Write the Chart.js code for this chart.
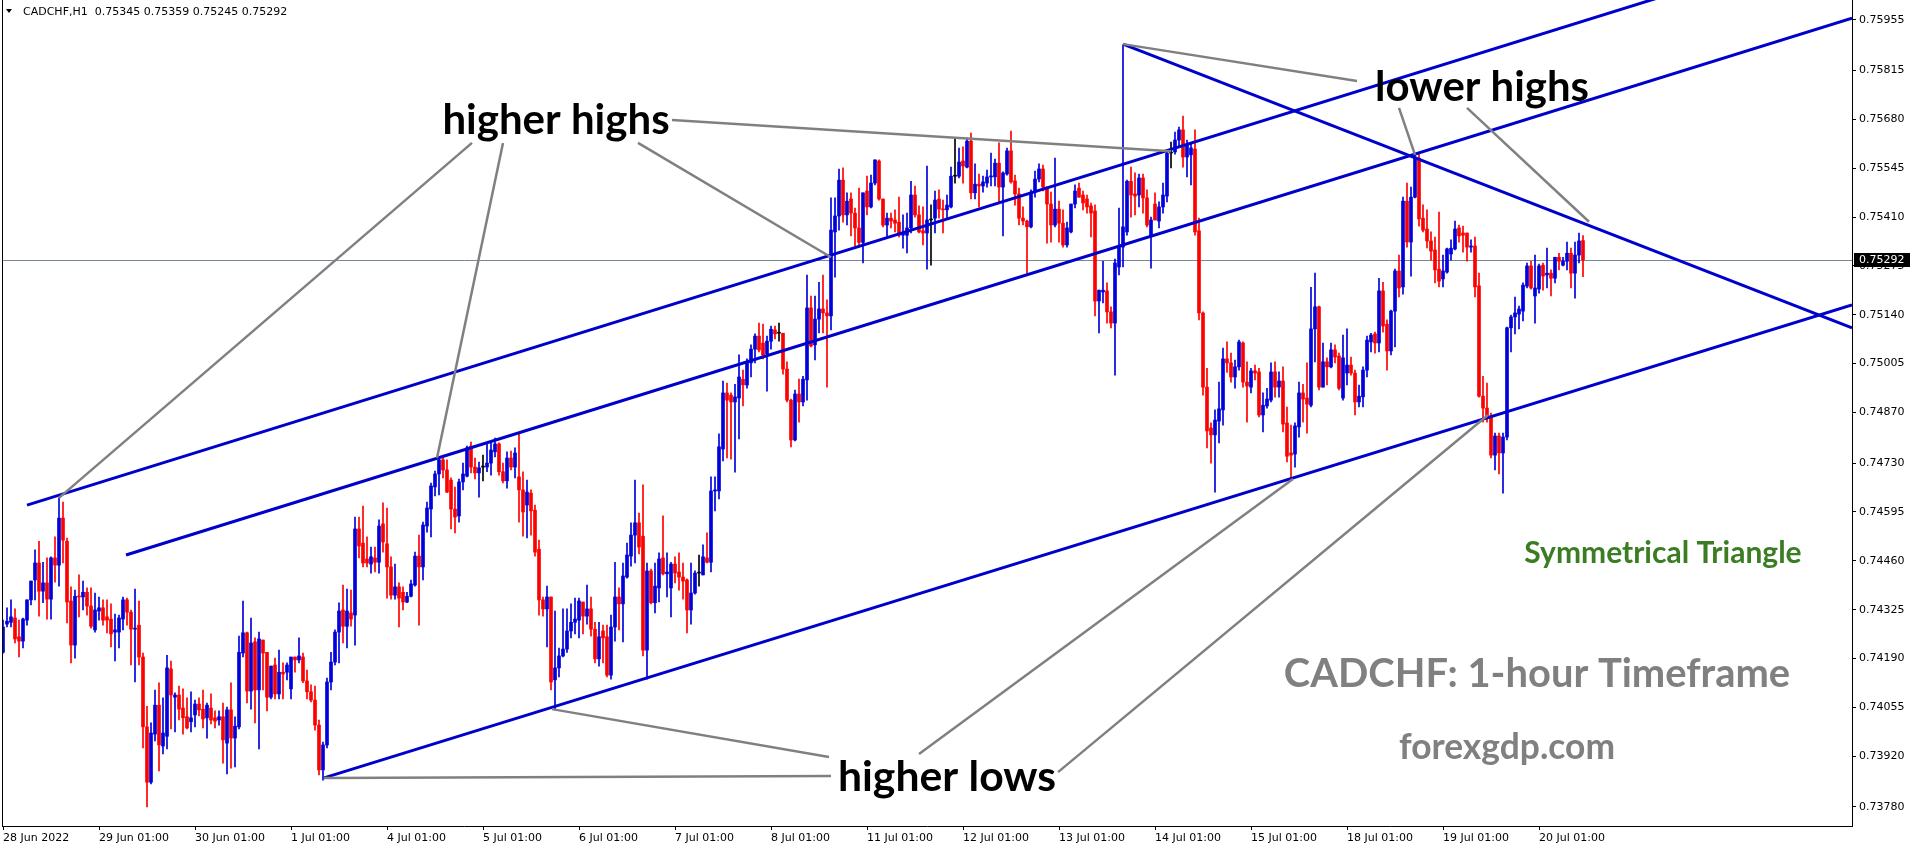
<!DOCTYPE html>
<html><head><meta charset="utf-8">
<script src="https://cdn.jsdelivr.net/npm/chart.js@4.4.1/dist/chart.umd.min.js"></script>
<style>html,body{margin:0;padding:0;background:#fff;overflow:hidden}#wrap{position:relative;width:1916px;height:850px}</style>
</head><body><div id="wrap"><canvas id="c" width="1916" height="850"></canvas></div>
<script>
const headerText = 'CADCHF,H1  0.75345 0.75359 0.75245 0.75292';
const dayLabels = ['28 Jun 2022','29 Jun 01:00','30 Jun 01:00','1 Jul 01:00','4 Jul 01:00','5 Jul 01:00','6 Jul 01:00','7 Jul 01:00','8 Jul 01:00','11 Jul 01:00','12 Jul 01:00','13 Jul 01:00','14 Jul 01:00','15 Jul 01:00','18 Jul 01:00','19 Jul 01:00','20 Jul 01:00'];
const barsPerDay = 24;
const priceTicks = [0.73780,0.73920,0.74055,0.74190,0.74325,0.74460,0.74595,0.74730,0.74870,0.75005,0.75140,0.75275,0.75410,0.75545,0.75680,0.75815,0.75955];

const openP = [
0.74207,0.74285,0.74290,0.74302,0.74250,0.74238,0.74296,0.74352,0.74407,0.74454,
0.74376,0.74399,0.74354,0.74468,0.74448,0.74578,0.74514,0.74349,0.74227,0.74362,
0.74360,0.74373,0.74335,0.74269,0.74321,0.74330,0.74305,0.74299,0.74263,0.74263,
0.74299,0.74352,0.74318,0.74271,0.74282,0.74194,0.74001,0.73848,0.73981,0.74061,
0.73948,0.73975,0.74161,0.74083,0.74089,0.74053,0.74029,0.74015,0.74034,0.74064,
0.74050,0.74026,0.74053,0.74026,0.74020,0.74029,0.73956,0.74048,0.73970,0.74001,
0.74205,0.74261,0.74100,0.74236,0.74103,0.74241,0.74207,0.74083,0.74172,0.74092,
0.74152,0.74152,0.74106,0.74194,0.74186,0.74194,0.74128,0.74098,0.74075,0.74006,
0.73882,0.73951,0.74125,0.74180,0.74263,0.74324,0.74279,0.74316,0.74310,0.74548,
0.74509,0.74465,0.74451,0.74468,0.74456,0.74562,0.74507,0.74443,0.74365,0.74388,
0.74373,0.74346,0.74362,0.74393,0.74473,0.74443,0.74556,0.74603,0.74664,0.74700,
0.74739,0.74711,0.74683,0.74603,0.74584,0.74678,0.74694,0.74777,0.74719,0.74703,
0.74719,0.74719,0.74730,0.74761,0.74783,0.74706,0.74681,0.74744,0.74719,0.74692,
0.74656,0.74614,0.74647,0.74600,0.74492,0.74352,0.74327,0.74360,0.74131,0.74164,
0.74197,0.74216,0.74266,0.74290,0.74296,0.74346,0.74307,0.74327,0.74271,0.74189,
0.74266,0.74250,0.74144,0.74277,0.74360,0.74341,0.74415,0.74473,0.74531,0.74565,
0.74528,0.74213,0.74432,0.74344,0.74385,0.74468,0.74424,0.74385,0.74451,0.74429,
0.74415,0.74407,0.74324,0.74371,0.74426,0.74421,0.74468,0.74456,0.74653,0.74653,
0.74769,0.74924,0.74918,0.74899,0.74910,0.74962,0.74946,0.75007,0.75045,0.75081,
0.75062,0.75032,0.75067,0.75098,0.75089,0.75089,0.74990,0.74904,0.74794,0.74921,
0.74899,0.74960,0.75159,0.75057,0.75128,0.75156,0.75145,0.75137,0.75369,0.75413,
0.75512,0.75416,0.75460,0.75421,0.75380,0.75340,0.75482,0.75438,0.75504,0.75565,
0.75460,0.75388,0.75407,0.75402,0.75396,0.75360,0.75360,0.75380,0.75471,0.75416,
0.75372,0.75366,0.75402,0.75407,0.75460,0.75432,0.75430,0.75438,0.75523,0.75523,
0.75565,0.75548,0.75620,0.75477,0.75501,0.75496,0.75504,0.75521,0.75521,0.75559,
0.75493,0.75529,0.75593,0.75510,0.75474,0.75407,0.75399,0.75383,0.75479,0.75515,
0.75543,0.75493,0.75446,0.75388,0.75432,0.75393,0.75333,0.75369,0.75446,0.75490,
0.75471,0.75460,0.75441,0.75427,0.75178,0.75203,0.75206,0.75148,0.75117,0.75272,
0.75327,0.75369,0.75509,0.75474,0.75471,0.75518,0.75463,0.75358,0.75446,0.75399,
0.75438,0.75468,0.75587,0.75590,0.75623,0.75651,0.75576,0.75582,0.75598,0.75372,
0.75145,0.74940,0.74827,0.74808,0.74846,0.74877,0.75018,0.75007,0.74968,0.74996,
0.75062,0.74954,0.74940,0.74985,0.74982,0.74863,0.74888,0.74904,0.74982,0.74940,
0.74957,0.74841,0.74758,0.74755,0.74830,0.74924,0.74910,0.74890,0.75101,0.75162,
0.74940,0.75010,0.74996,0.75043,0.75026,0.74910,0.74979,0.75001,0.74979,0.74899,
0.74913,0.74987,0.75065,0.75087,0.75062,0.75206,0.75114,0.75040,0.75150,0.75261,
0.75217,0.75454,0.75341,0.75465,0.75573,0.75407,0.75377,0.75344,0.75319,0.75266,
0.75239,0.75258,0.75308,0.75322,0.75380,0.75366,0.75366,0.75327,0.75330,0.75220,
0.74915,0.74882,0.74860,0.74752,0.74805,0.74758,0.74802,0.75104,0.75134,0.75142,
0.75150,0.75219,0.75275,0.75192,0.75211,0.75277,0.75250,0.75255,0.75241,0.75299,
0.75277,0.75288,0.75310,0.75255,0.75305,0.75345];

const highP = [
0.74296,0.74330,0.74352,0.74327,0.74296,0.74302,0.74352,0.74404,0.74490,0.74514,
0.74456,0.74468,0.74471,0.74526,0.74634,0.74622,0.74523,0.74388,0.74379,0.74421,
0.74404,0.74385,0.74385,0.74371,0.74360,0.74352,0.74352,0.74341,0.74313,0.74310,
0.74360,0.74357,0.74324,0.74382,0.74349,0.74205,0.74058,0.74012,0.74103,0.74123,
0.74081,0.74199,0.74183,0.74095,0.74114,0.74106,0.74081,0.74098,0.74075,0.74081,
0.74103,0.74067,0.74092,0.74045,0.74045,0.74067,0.74056,0.74123,0.74029,0.74252,
0.74349,0.74263,0.74302,0.74247,0.74263,0.74241,0.74207,0.74169,0.74191,0.74213,
0.74178,0.74178,0.74194,0.74194,0.74247,0.74205,0.74158,0.74117,0.74114,0.74020,
0.73959,0.74136,0.74207,0.74269,0.74344,0.74393,0.74382,0.74379,0.74581,0.74581,
0.74611,0.74526,0.74498,0.74498,0.74573,0.74620,0.74606,0.74471,0.74451,0.74399,
0.74388,0.74373,0.74407,0.74484,0.74531,0.74567,0.74622,0.74675,0.74708,0.74747,
0.74747,0.74739,0.74689,0.74664,0.74686,0.74730,0.74777,0.74788,0.74744,0.74733,
0.74752,0.74786,0.74788,0.74799,0.74786,0.74730,0.74761,0.74763,0.74772,0.74813,
0.74706,0.74683,0.74656,0.74614,0.74517,0.74360,0.74390,0.74360,0.74321,0.74219,
0.74327,0.74327,0.74341,0.74357,0.74357,0.74346,0.74393,0.74360,0.74290,0.74290,
0.74282,0.74282,0.74310,0.74456,0.74385,0.74454,0.74509,0.74565,0.74683,0.74592,
0.74670,0.74454,0.74437,0.74454,0.74482,0.74584,0.74482,0.74456,0.74471,0.74482,
0.74454,0.74410,0.74454,0.74432,0.74476,0.74504,0.74537,0.74692,0.74692,0.74811,
0.74957,0.74951,0.74924,0.74948,0.75029,0.74987,0.75018,0.75057,0.75087,0.75117,
0.75114,0.75081,0.75109,0.75109,0.75117,0.75089,0.75010,0.74907,0.74932,0.74962,
0.74970,0.75250,0.75192,0.75192,0.75230,0.75250,0.75181,0.75463,0.75463,0.75543,
0.75546,0.75477,0.75477,0.75435,0.75490,0.75477,0.75523,0.75526,0.75568,0.75568,
0.75460,0.75421,0.75421,0.75430,0.75465,0.75416,0.75421,0.75509,0.75496,0.75441,
0.75438,0.75551,0.75444,0.75482,0.75485,0.75457,0.75471,0.75548,0.75626,0.75601,
0.75604,0.75629,0.75642,0.75557,0.75529,0.75523,0.75540,0.75587,0.75570,0.75615,
0.75535,0.75601,0.75648,0.75526,0.75490,0.75438,0.75402,0.75485,0.75537,0.75557,
0.75554,0.75493,0.75479,0.75573,0.75454,0.75430,0.75396,0.75446,0.75499,0.75504,
0.75482,0.75471,0.75449,0.75444,0.75208,0.75288,0.75228,0.75162,0.75294,0.75435,
0.75886,0.75512,0.75548,0.75532,0.75529,0.75529,0.75485,0.75410,0.75477,0.75452,
0.75504,0.75590,0.75617,0.75645,0.75659,0.75689,0.75623,0.75615,0.75651,0.75407,
0.75148,0.74992,0.74841,0.74877,0.74954,0.75048,0.75065,0.75034,0.75015,0.75070,
0.75065,0.75010,0.74992,0.75001,0.74992,0.74924,0.74937,0.75007,0.75010,0.74982,
0.74996,0.74885,0.74835,0.74841,0.74954,0.74948,0.75007,0.75216,0.75255,0.75164,
0.75062,0.75021,0.75062,0.75057,0.75034,0.75084,0.75101,0.75023,0.74987,0.74946,
0.74996,0.75081,0.75089,0.75092,0.75241,0.75230,0.75126,0.75153,0.75266,0.75305,
0.75465,0.75504,0.75493,0.75582,0.75587,0.75444,0.75430,0.75369,0.75355,0.75424,
0.75305,0.75324,0.75347,0.75399,0.75388,0.75385,0.75366,0.75347,0.75355,0.75255,
0.74970,0.74951,0.74868,0.74813,0.74813,0.74813,0.75106,0.75139,0.75189,0.75164,
0.75228,0.75283,0.75288,0.75305,0.75280,0.75283,0.75324,0.75264,0.75299,0.75310,
0.75299,0.75341,0.75324,0.75341,0.75366,0.75359];

const lowP = [
0.74205,0.74277,0.74277,0.74233,0.74194,0.74219,0.74282,0.74338,0.74352,0.74307,
0.74344,0.74299,0.74299,0.74401,0.74390,0.74454,0.74288,0.74178,0.74191,0.74305,
0.74324,0.74310,0.74274,0.74263,0.74296,0.74282,0.74261,0.74222,0.74183,0.74219,
0.74269,0.74282,0.74172,0.74125,0.74172,0.73943,0.73780,0.73843,0.73962,0.73879,
0.73926,0.73940,0.73995,0.73987,0.74020,0.73981,0.73995,0.73987,0.74001,0.74031,
0.73998,0.73970,0.74009,0.73998,0.74006,0.73901,0.73871,0.73887,0.73890,0.73995,
0.74194,0.74067,0.74050,0.74012,0.73940,0.74103,0.74045,0.74078,0.74078,0.74078,
0.74078,0.74131,0.74078,0.74152,0.74178,0.74123,0.74078,0.74070,0.73992,0.73868,
0.73854,0.73943,0.74103,0.74172,0.74178,0.74233,0.74219,0.74279,0.74227,0.74468,
0.74443,0.74443,0.74426,0.74429,0.74426,0.74484,0.74357,0.74354,0.74354,0.74277,
0.74324,0.74344,0.74360,0.74390,0.74282,0.74407,0.74539,0.74526,0.74639,0.74642,
0.74689,0.74648,0.74548,0.74537,0.74567,0.74656,0.74692,0.74703,0.74686,0.74636,
0.74681,0.74706,0.74697,0.74747,0.74697,0.74675,0.74661,0.74711,0.74689,0.74567,
0.74528,0.74523,0.74531,0.74473,0.74310,0.74307,0.74222,0.74103,0.74048,0.74139,
0.74194,0.74207,0.74247,0.74258,0.74247,0.74258,0.74285,0.74252,0.74178,0.74169,
0.74178,0.74139,0.74133,0.74238,0.74269,0.74236,0.74412,0.74445,0.74454,0.74479,
0.74197,0.74133,0.74341,0.74316,0.74346,0.74421,0.74360,0.74305,0.74399,0.74379,
0.74354,0.74261,0.74285,0.74368,0.74390,0.74421,0.74454,0.74429,0.74598,0.74631,
0.74736,0.74744,0.74741,0.74705,0.74797,0.74888,0.74937,0.74968,0.75007,0.75037,
0.75018,0.74929,0.75045,0.75073,0.75067,0.74976,0.74899,0.74775,0.74791,0.74843,
0.74888,0.74904,0.75051,0.75015,0.75090,0.75090,0.74940,0.75098,0.75244,0.75374,
0.75396,0.75388,0.75358,0.75327,0.75330,0.75283,0.75416,0.75435,0.75499,0.75457,
0.75383,0.75352,0.75380,0.75369,0.75355,0.75324,0.75311,0.75366,0.75410,0.75366,
0.75333,0.75266,0.75277,0.75366,0.75407,0.75366,0.75407,0.75435,0.75504,0.75518,
0.75504,0.75546,0.75460,0.75460,0.75438,0.75479,0.75493,0.75496,0.75496,0.75449,
0.75358,0.75526,0.75504,0.75443,0.75388,0.75388,0.75255,0.75380,0.75465,0.75507,
0.75482,0.75338,0.75341,0.75383,0.75341,0.75327,0.75327,0.75366,0.75435,0.75465,
0.75430,0.75421,0.75355,0.75137,0.75090,0.75173,0.75117,0.75104,0.74973,0.75250,
0.75272,0.75360,0.75410,0.75416,0.75438,0.75421,0.75383,0.75269,0.75402,0.75380,
0.75421,0.75452,0.75546,0.75584,0.75606,0.75548,0.75521,0.75499,0.75360,0.75126,
0.74918,0.74772,0.74730,0.74650,0.74786,0.74835,0.74981,0.74954,0.74937,0.74987,
0.74940,0.74843,0.74924,0.74960,0.74858,0.74816,0.74882,0.74899,0.74912,0.74912,
0.74816,0.74733,0.74689,0.74719,0.74802,0.74843,0.74813,0.74885,0.75010,0.74932,
0.74940,0.74946,0.74993,0.75007,0.74932,0.74904,0.74946,0.74973,0.74863,0.74885,
0.74885,0.74968,0.75037,0.75034,0.75037,0.75092,0.74987,0.75029,0.75051,0.75189,
0.75197,0.75327,0.75247,0.75463,0.75385,0.75369,0.75325,0.75291,0.75228,0.75217,
0.75217,0.75255,0.75291,0.75319,0.75341,0.75313,0.75288,0.75313,0.75189,0.74912,
0.74843,0.74843,0.74744,0.74711,0.74700,0.74647,0.74794,0.75037,0.75087,0.75101,
0.75123,0.75214,0.75211,0.75117,0.75200,0.75208,0.75214,0.75192,0.75228,0.75264,
0.75275,0.75264,0.75214,0.75186,0.75283,0.75245];

const closeP = [
0.74277,0.74293,0.74305,0.74244,0.74238,0.74299,0.74352,0.74404,0.74454,0.74376,
0.74399,0.74354,0.74468,0.74448,0.74578,0.74517,0.74346,0.74227,0.74362,0.74360,
0.74373,0.74335,0.74279,0.74324,0.74330,0.74296,0.74296,0.74258,0.74269,0.74302,
0.74352,0.74318,0.74271,0.74274,0.74194,0.74001,0.73848,0.73984,0.74061,0.73951,
0.73984,0.74164,0.74089,0.74089,0.74050,0.74026,0.73998,0.74026,0.74064,0.74048,
0.74023,0.74061,0.74020,0.74017,0.74029,0.73965,0.74048,0.73970,0.74003,0.74207,
0.74261,0.74100,0.74233,0.74103,0.74244,0.74205,0.74083,0.74169,0.74092,0.74152,
0.74147,0.74172,0.74194,0.74186,0.74197,0.74128,0.74098,0.74075,0.74006,0.73882,
0.73951,0.74125,0.74180,0.74263,0.74321,0.74279,0.74321,0.74299,0.74548,0.74501,
0.74454,0.74454,0.74471,0.74456,0.74556,0.74512,0.74443,0.74365,0.74388,0.74357,
0.74346,0.74362,0.74396,0.74473,0.74443,0.74559,0.74606,0.74667,0.74700,0.74739,
0.74711,0.74650,0.74603,0.74581,0.74678,0.74700,0.74772,0.74719,0.74703,0.74717,
0.74719,0.74730,0.74766,0.74783,0.74706,0.74681,0.74744,0.74719,0.74758,0.74656,
0.74595,0.74650,0.74598,0.74484,0.74352,0.74327,0.74360,0.74125,0.74164,0.74197,
0.74216,0.74266,0.74290,0.74299,0.74349,0.74307,0.74327,0.74271,0.74189,0.74250,
0.74247,0.74144,0.74277,0.74360,0.74341,0.74418,0.74476,0.74531,0.74565,0.74498,
0.74213,0.74432,0.74344,0.74390,0.74465,0.74424,0.74429,0.74451,0.74426,0.74415,
0.74404,0.74324,0.74371,0.74426,0.74426,0.74471,0.74456,0.74653,0.74656,0.74775,
0.74924,0.74904,0.74899,0.74913,0.74968,0.74946,0.75007,0.75045,0.75081,0.75043,
0.75029,0.75067,0.75100,0.75087,0.75089,0.74990,0.74904,0.74794,0.74921,0.74899,
0.74962,0.75159,0.75054,0.75128,0.75156,0.75145,0.75137,0.75374,0.75413,0.75512,
0.75416,0.75454,0.75421,0.75380,0.75340,0.75477,0.75438,0.75504,0.75568,0.75460,
0.75388,0.75407,0.75399,0.75393,0.75360,0.75366,0.75380,0.75471,0.75416,0.75369,
0.75366,0.75402,0.75402,0.75457,0.75432,0.75430,0.75443,0.75523,0.75523,0.75562,
0.75551,0.75620,0.75477,0.75501,0.75496,0.75507,0.75521,0.75523,0.75559,0.75493,
0.75532,0.75593,0.75507,0.75474,0.75407,0.75399,0.75383,0.75479,0.75515,0.75543,
0.75493,0.75446,0.75388,0.75432,0.75393,0.75333,0.75380,0.75446,0.75482,0.75465,
0.75449,0.75438,0.75421,0.75178,0.75208,0.75208,0.75148,0.75117,0.75283,0.75330,
0.75383,0.75509,0.75471,0.75468,0.75518,0.75463,0.75388,0.75402,0.75402,0.75438,
0.75471,0.75587,0.75587,0.75623,0.75651,0.75576,0.75609,0.75601,0.75369,0.75145,
0.74940,0.74819,0.74808,0.74849,0.74880,0.75018,0.75007,0.74968,0.74996,0.75065,
0.74954,0.74943,0.74985,0.74979,0.74863,0.74890,0.74907,0.74982,0.74940,0.74957,
0.74838,0.74749,0.74752,0.74833,0.74924,0.74907,0.74893,0.75101,0.75162,0.74940,
0.75010,0.74996,0.75043,0.75023,0.74937,0.75021,0.75001,0.74979,0.74899,0.74915,
0.74987,0.75070,0.75084,0.75062,0.75206,0.75109,0.75040,0.75150,0.75261,0.75214,
0.75454,0.75341,0.75465,0.75576,0.75405,0.75374,0.75344,0.75316,0.75264,0.75233,
0.75261,0.75322,0.75324,0.75377,0.75358,0.75360,0.75327,0.75330,0.75217,0.74915,
0.74882,0.74860,0.74752,0.74805,0.74758,0.74802,0.75104,0.75134,0.75145,0.75156,
0.75222,0.75275,0.75214,0.75214,0.75275,0.75247,0.75255,0.75241,0.75299,0.75288,
0.75288,0.75310,0.75255,0.75305,0.75344,0.75292];

// trend lines: [barIndex, price] end points
const channelLines = [
  [[6, 0.74614], [424.25, 0.76052]],
  [[30.75, 0.74476], [462.25, 0.75960]],
  [[80.25, 0.73860], [462.25, 0.75167]],
  [[280, 0.75888], [462.25, 0.75104]]
];
const pointerLines = [
  [[117.25, 0.75615], [14, 0.74634]],
  [[125, 0.75615], [108.5, 0.74744]],
  [[158.75, 0.75615], [207, 0.75299]],
  [[167.25, 0.75678], [292, 0.75592]],
  [[338.5, 0.75786], [280, 0.75888]],
  [[349, 0.75712], [353, 0.75582]],
  [[366, 0.75712], [396.5, 0.75397]],
  [[207, 0.73865], [80.25, 0.73860]],
  [[206.5, 0.73918], [137.25, 0.74050]],
  [[229, 0.73926], [322.5, 0.74686]],
  [[263.75, 0.73876], [371.25, 0.74863]]
];
const notes = [
  {text: 'higher highs', x: 138.25, y: 0.75678, w: 227, color: '#000000'},
  {text: 'lower highs', x: 369.75, y: 0.75767, w: 214, color: '#000000'},
  {text: 'higher lows', x: 236, y: 0.73862, w: 218, color: '#000000'},
  {text: 'Symmetrical Triangle', x: 415, y: 0.74482, w: 277, color: '#3b7d23'},
  {text: 'CADCHF: 1-hour Timeframe', x: 383.5, y: 0.74147, w: 507, color: '#808080'},
  {text: 'forexgdp.com', x: 376, y: 0.73943, w: 216, color: '#808080'}
];

const BULL = '#0000dd', BEAR = '#ff0000', DOJI = '#000000', LINE_BLUE = '#0000cd', GREY = '#808080';
const idx = openP.map((_, i) => i);
const candleColor = i => closeP[i] > openP[i] ? BULL : (closeP[i] < openP[i] ? BEAR : DOJI);
const colors = idx.map(candleColor);
const tickIdx = dayLabels.map((_, k) => k * barsPerDay);
const lastClose = closeP[closeP.length - 1];

const datasets = [
  {type: 'bar', label: 'wick', data: idx.map(i => ({x: i, y: [lowP[i], highP[i]]})),
   backgroundColor: colors, barThickness: 1, grouped: false, order: 5, borderWidth: 0},
  {type: 'bar', label: 'body', data: idx.map(i => ({x: i, y: [openP[i], closeP[i]]})),
   backgroundColor: colors, barThickness: 3, minBarLength: 1, grouped: false, order: 4, borderWidth: 0}
];
channelLines.forEach(l => datasets.push({type: 'line', data: l.map(p => ({x: p[0], y: p[1]})),
  borderColor: LINE_BLUE, borderWidth: 3, pointRadius: 0, order: 2, tension: 0}));
pointerLines.forEach(l => datasets.push({type: 'line', data: l.map(p => ({x: p[0], y: p[1]})),
  borderColor: GREY, borderWidth: 2.5, pointRadius: 0, order: 1, tension: 0}));

const AXIS_FONT = {family: 'DejaVu Sans', size: 11};

const decor = {
  id: 'decor',
  beforeDatasetsDraw(chart) {
    const {ctx, chartArea, scales} = chart;
    const y = Math.round(scales.y.getPixelForValue(lastClose)) + 0.5;
    ctx.save();
    ctx.strokeStyle = '#778899'; ctx.lineWidth = 1;
    ctx.beginPath(); ctx.moveTo(chartArea.left, y); ctx.lineTo(chartArea.right, y); ctx.stroke();
    ctx.restore();
  },
  afterDraw(chart) {
    const {ctx, chartArea, scales} = chart;
    ctx.save();
    ctx.strokeStyle = '#000'; ctx.lineWidth = 1;
    ctx.beginPath(); ctx.moveTo(chartArea.left + 0.5, 0); ctx.lineTo(chartArea.left + 0.5, chartArea.bottom); ctx.stroke();
    ctx.fillStyle = '#000';
    ctx.beginPath(); ctx.moveTo(6, 9); ctx.lineTo(12, 9); ctx.lineTo(9, 13); ctx.closePath(); ctx.fill();
    ctx.font = '11px "DejaVu Sans"'; ctx.textBaseline = 'middle'; ctx.textAlign = 'left';
    ctx.fillText(headerText, 23, 12);
    notes.forEach(n => {
      ctx.font = 'bold 40px Lato';
      const m = ctx.measureText(n.text).width;
      const size = 40 * n.w / m;
      ctx.font = 'bold ' + size.toFixed(1) + 'px Lato';
      ctx.fillStyle = n.color; ctx.textAlign = 'center'; ctx.textBaseline = 'middle';
      ctx.fillText(n.text, scales.x.getPixelForValue(n.x), scales.y.getPixelForValue(n.y));
    });
    const py = Math.round(scales.y.getPixelForValue(lastClose));
    ctx.fillStyle = '#000';
    ctx.fillRect(chartArea.right + 2, py - 7, 56, 14);
    ctx.fillStyle = '#fff'; ctx.font = '11px "DejaVu Sans"'; ctx.textAlign = 'left'; ctx.textBaseline = 'middle';
    ctx.fillText(lastClose.toFixed(5), chartArea.right + 7, py);
    ctx.restore();
  }
};

new Chart(document.getElementById('c'), {
  type: 'bar',
  data: {datasets},
  options: {
    responsive: false, animation: false, maintainAspectRatio: false,
    layout: {padding: {left: 2, top: 0, right: 0, bottom: 0}},
    plugins: {legend: {display: false}, tooltip: {enabled: false}},
    scales: {
      x: {
        type: 'linear', position: 'bottom', min: -0.25, max: 462.25, offset: false,
        afterBuildTicks: s => { s.ticks = tickIdx.map(v => ({value: v})); },
        afterFit: s => { s.height = 24; s.paddingLeft = 0; s.paddingRight = 0; },
        ticks: {autoSkip: false, maxRotation: 0, minRotation: 0, align: 'start', padding: 2,
          font: AXIS_FONT, color: '#000', callback: (v, i) => dayLabels[i]},
        grid: {drawOnChartArea: false, drawTicks: true, tickLength: 4, color: '#000', offset: false},
        border: {display: true, color: '#000', width: 1}
      },
      y: {
        type: 'linear', position: 'right', min: 0.73727, max: 0.76010, beginAtZero: false,
        afterBuildTicks: s => { s.ticks = priceTicks.map(v => ({value: v})); },
        afterFit: s => { s.width = 64; s.paddingTop = 0; s.paddingBottom = 0; },
        ticks: {padding: 3, font: AXIS_FONT, color: '#000', callback: v => v.toFixed(5)},
        grid: {drawOnChartArea: false, drawTicks: true, tickLength: 4, color: '#000'},
        border: {display: true, color: '#000', width: 1}
      }
    }
  },
  plugins: [decor]
});
</script></body></html>
